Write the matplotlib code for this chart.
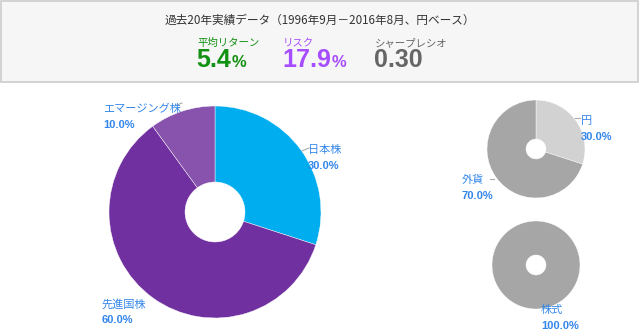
import matplotlib.pyplot as plt
from matplotlib.patches import Rectangle

W, H = 640, 331

# data
title = "過去20年実績データ（1996年9月－2016年8月、円ベース）"
stat_names = ["平均リターン", "リスク", "シャープレシオ"]
stat_values = ["5.4", "17.9", "0.30"]
stat_units = ["%", "%", ""]
stat_colors = ["#139113", "#a64dff", "#666666"]

asset_names = ["日本株", "先進国株", "エマージング株"]
asset_share = [30.0, 60.0, 10.0]
asset_colors = ["#00aeef", "#7030a0", "#8753ad"]

ccy_names = ["円", "外貨"]
ccy_share = [30.0, 70.0]
ccy_colors = ["#d2d2d2", "#a6a6a6"]

kind_names = ["株式"]
kind_share = [100.0]
kind_colors = ["#a6a6a6"]

jp = ["Noto Sans CJK JP", "DejaVu Sans"]
num = ["Liberation Sans", "DejaVu Sans"]
lab_col = "#3386ea"


def px(x, y):
    return x / W, 1 - y / H


fig = plt.figure(figsize=(W / 100, H / 100), dpi=100)
fig.patch.set_facecolor("white")

# header box
fig.patches.append(Rectangle(px(1, 82), 637 / W, 81 / H, transform=fig.transFigure,
                             facecolor="#f6f6f6", edgecolor="#cccccc", lw=1.2))
fig.text(*px(320, 20), title, family=jp, fontsize=8.4, color="#333333",
         ha="center", va="center")

renderer = fig.canvas.get_renderer()
stat_x = [197, 283, 375]
for x, n, v, u, c in zip(stat_x, stat_names, stat_values, stat_units, stat_colors):
    fig.text(*px(x, 43), n, family=jp, fontsize=7.5, color=c, va="center")
    t = fig.text(*px(x - 1, 67), v, family=num, fontsize=18, weight="bold",
                 color=c, va="baseline")
    if u:
        bb = t.get_window_extent(renderer)
        fig.text(bb.x1 / W + 0.001, 1 - 67 / H, u, family=num, fontsize=12,
                 weight="bold", color=c, va="baseline")


def donut(cx, cy, r, hole, vals, cols):
    ax = fig.add_axes([(cx - r) / W, (H - cy - r) / H, 2 * r / W, 2 * r / H])
    ax.pie(vals, colors=cols, startangle=90, counterclock=False,
           wedgeprops=dict(width=1 - hole / r, linewidth=0.3, edgecolor="white"))
    ax.set_xlim(-1, 1)
    ax.set_ylim(-1, 1)
    ax.axis("off")
    return ax


donut(215, 212, 106, 30, asset_share, asset_colors)
donut(536, 149, 49, 10, ccy_share, ccy_colors)
donut(536, 265, 44, 10, kind_share, kind_colors)


def label(x, y, name, val):
    fig.text(*px(x, y), name, family=jp, fontsize=8, color=lab_col, va="center")
    fig.text(*px(x, y + 16), f"{val:.1f}%", family=num, fontsize=8, weight="bold",
             color=lab_col, va="center")


label(308, 150, asset_names[0], asset_share[0])
label(102, 304, asset_names[1], asset_share[1])
label(103, 109, asset_names[2], asset_share[2])
label(581, 121, ccy_names[0], ccy_share[0])
label(462, 180, ccy_names[1], ccy_share[1])
label(541, 310, kind_names[0], kind_share[0])

# leader lines
leaders = [((302, 309), (151, 148)), ((177, 182), (105, 103)),
           ((575, 580), (118, 118)), ((490, 494), (179, 179))]
for xs, ys in leaders:
    fig.add_artist(plt.Line2D([x / W for x in xs], [1 - y / H for y in ys],
                              color="#aaaaaa", lw=0.8))

fig.savefig("out.png", dpi=100)
